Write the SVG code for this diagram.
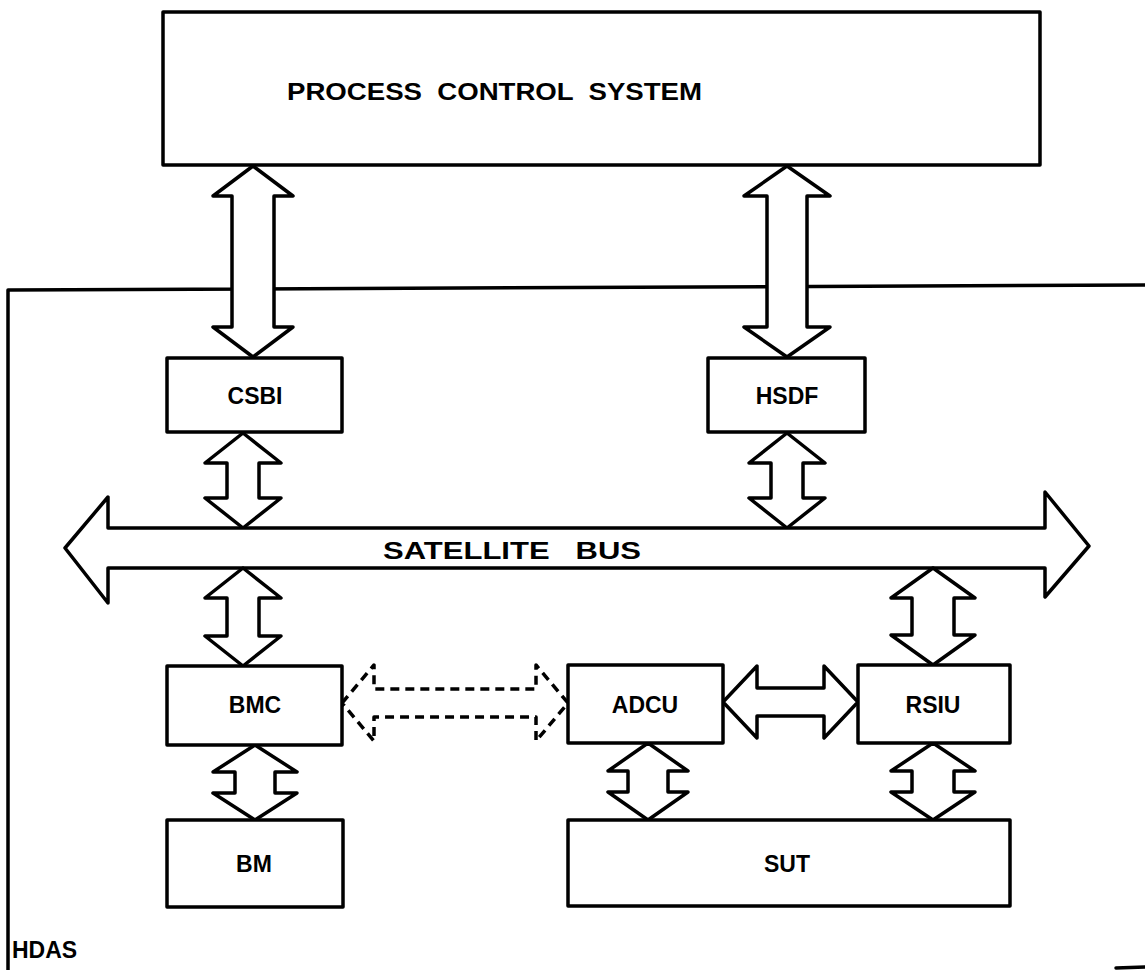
<svg xmlns="http://www.w3.org/2000/svg" width="1145" height="970" viewBox="0 0 1145 970">
<style>
.ln{fill:none;stroke:#000;stroke-width:3.5;stroke-linejoin:round;stroke-linecap:round}
.bx{fill:#fff;stroke:#000;stroke-width:3.5;stroke-linejoin:round}
.ar{fill:#fff;stroke:#000;stroke-width:3.5;stroke-linejoin:round}
.da{fill:#fff;stroke:#000;stroke-width:3.5;stroke-linejoin:round;stroke-dasharray:9 6}
.t{font-family:"Liberation Sans",Arial,Helvetica,sans-serif;font-weight:bold;font-size:23px;fill:#000;text-anchor:middle}
.tl{font-family:"Liberation Sans",Arial,Helvetica,sans-serif;font-weight:bold;font-size:23px;fill:#000}
</style>
<rect width="1145" height="970" fill="#fff"/>
<g id="hdas">
<path class="ln" d="M8,970 V290 L1145,285"/>
<path class="ln" d="M1116,968 L1145,967"/>
<text class="tl" x="12" y="958">HDAS</text>
</g>
<g id="connectors">
<polygon class="ar" points="253,166 293,196 274,196 274,327 293,327 253,357 213,327 232,327 232,196 213,196"/>
<polygon class="ar" points="787,166 830,196 807,196 807,327 830,327 787,357 744,327 767,327 767,196 744,196"/>
<polygon class="ar" points="243,433 281,463 259,463 259,498 281,498 243,528 205,498 227,498 227,463 205,463"/>
<polygon class="ar" points="787,433 825,463 803,463 803,498 825,498 787,528 749,498 771,498 771,463 749,463"/>
<polygon class="ar" points="65,548 108,497 108,528 1045,528 1045,492 1089,546 1045,597 1045,568 108,568 108,603"/>
<polygon class="ar" points="243,568 281,598 259,598 259,636 281,636 243,666 205,636 227,636 227,598 205,598"/>
<polygon class="ar" points="933,568 975,598 954,598 954,635 975,635 933,665 891,635 912,635 912,598 891,598"/>
<polygon class="da" points="342,703 374,665 374,689 536,689 536,665 568,703 536,741 536,717 374,717 374,741"/>
<polygon class="ar" points="723,702 757,666 757,688 824,688 824,666 858,702 824,738 824,716 757,716 757,738"/>
<polygon class="ar" points="255,745 297,772 275,772 275,793 297,793 255,820 213,793 235,793 235,772 213,772"/>
<polygon class="ar" points="648,743 688,771 668,771 668,792 688,792 648,820 608,792 628,792 628,771 608,771"/>
<polygon class="ar" points="933,743 975,771 954,771 954,792 975,792 933,820 891,792 912,792 912,771 891,771"/>
<text class="tl" x="383" y="559" textLength="258" lengthAdjust="spacingAndGlyphs" xml:space="preserve">SATELLITE   BUS</text>
</g>
<g id="pcs">
<rect class="bx" x="163" y="12" width="877" height="153"/>
<text class="tl" x="287" y="100" font-size="25" textLength="415" lengthAdjust="spacingAndGlyphs" xml:space="preserve">PROCESS  CONTROL  SYSTEM</text>
</g>
<g id="csbi"><rect class="bx" x="167" y="358" width="175" height="74"/><text class="t" x="255" y="404">CSBI</text></g>
<g id="hsdf"><rect class="bx" x="708" y="358" width="157" height="74"/><text class="t" x="787" y="404">HSDF</text></g>
<g id="bmc"><rect class="bx" x="167" y="666" width="175" height="79"/><text class="t" x="255" y="713">BMC</text></g>
<g id="adcu"><rect class="bx" x="568" y="665" width="155" height="78"/><text class="t" x="645" y="713">ADCU</text></g>
<g id="rsiu"><rect class="bx" x="858" y="665" width="152" height="78"/><text class="t" x="933" y="713">RSIU</text></g>
<g id="bm"><rect class="bx" x="167" y="820" width="176" height="87"/><text class="t" x="254" y="872">BM</text></g>
<g id="sut"><rect class="bx" x="568" y="820" width="442" height="86"/><text class="t" x="787" y="872">SUT</text></g>
</svg>
